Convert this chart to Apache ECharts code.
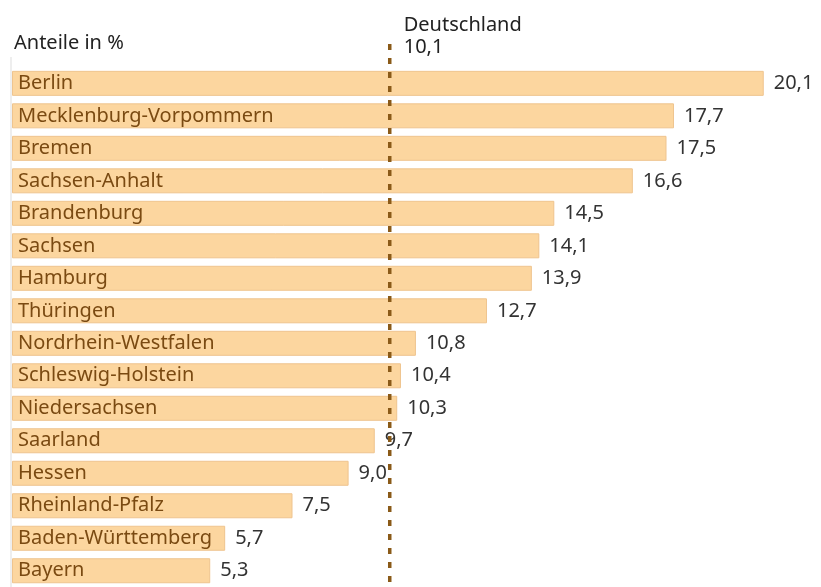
<!DOCTYPE html>
<html><head><meta charset="utf-8">
<script src="https://cdn.jsdelivr.net/npm/echarts@6/dist/echarts.min.js"></script>
<style>html,body{margin:0;padding:0;background:#fff}#c{width:821px;height:587px}</style>
</head><body><div id="c"></div>
<script>
const categories = ["Berlin","Mecklenburg-Vorpommern","Bremen","Sachsen-Anhalt","Brandenburg","Sachsen","Hamburg","Thüringen","Nordrhein-Westfalen","Schleswig-Holstein","Niedersachsen","Saarland","Hessen","Rheinland-Pfalz","Baden-Württemberg","Bayern"];
const values = [20.1,17.7,17.5,16.6,14.5,14.1,13.9,12.7,10.8,10.4,10.3,9.7,9.0,7.5,5.7,5.3];
const germanyValue = 10.1;
const fmt = v => v.toFixed(1).replace('.', ',');
const FONT = 'Noto Sans';
const chart = echarts.init(document.getElementById('c'));
chart.setOption({
  animation: false,
  title: {text: 'Anteile in %', left: 9, top: 28, textStyle: {fontFamily: FONT, fontSize: 20, fontWeight: 'normal', color: '#222'}},
  grid: {left: 12, right: 23.6, top: 67.1, bottom: -4.4, containLabel: false},
  xAxis: {type: 'value', min: 0, max: 21, show: false},
  yAxis: {type: 'category', data: categories, inverse: true,
    axisLine: {show: false}, axisTick: {show: false}, axisLabel: {show: false}},
  series: [{
    type: 'bar', data: values, barWidth: 25,
    itemStyle: {color: '#fcd69f', borderColor: '#efc48e', borderWidth: 1},
    label: {show: true, position: 'insideLeft', distance: 6, formatter: p => categories[p.dataIndex],
      fontFamily: FONT, fontSize: 20, color: '#7a4a12'}
  },{
    type: 'bar', data: values, barWidth: 25, barGap: '-100%', silent: true,
    itemStyle: {color: 'transparent'},
    label: {show: true, position: 'right', distance: 10, formatter: p => fmt(p.value),
      fontFamily: FONT, fontSize: 20, color: '#333'}
  }]
});
const gx = chart.convertToPixel({gridIndex: 0}, [germanyValue, 0])[0];
const x0 = chart.convertToPixel({gridIndex: 0}, [0, 0])[0];
chart.setOption({
  graphic: [
    {type: 'line', shape: {x1: x0 - 1, y1: 57, x2: x0 - 1, y2: 587}, style: {stroke: '#dddddd', lineWidth: 1}, z: 0},
    {type: 'line', shape: {x1: gx, y1: 44, x2: gx, y2: 587}, style: {stroke: '#8a5a18', lineWidth: 3.5, lineDash: [6, 8]}, z: 10},
    {type: 'text', x: gx + 14, y: 14, style: {text: 'Deutschland\n10,1', fontFamily: FONT, fontSize: 20, lineHeight: 22, fill: '#222', verticalAlign: 'top'}}
  ]
});
</script></body></html>
